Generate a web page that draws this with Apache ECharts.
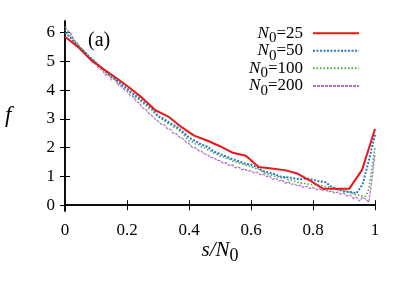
<!DOCTYPE html>
<html>
<head>
<meta charset="utf-8">
<script src="https://cdn.jsdelivr.net/npm/echarts@6/dist/echarts.min.js"></script>
<style>html,body{margin:0;padding:0;background:#fff;}#c{width:407px;height:285px;}</style>
</head>
<body>
<div id="c"></div>
<script>
// N0 = 25 : x = i/24
const red = [5.85,5.5,5.05,4.72,4.41,4.08,3.72,3.3,3.08,2.72,2.42,2.25,2.05,1.82,1.72,1.33,1.28,1.22,1.1,0.85,0.57,0.57,0.57,1.23,2.65];
// N0 = 50 : x = i/50
const blue = [6.0,5.8,5.55,5.36,5.14,4.95,4.76,4.55,4.4,4.22,4.06,3.87,3.71,3.52,3.36,3.1,2.99,2.84,2.73,2.55,2.35,2.23,2.11,2.03,1.87,1.78,1.69,1.6,1.53,1.45,1.41,1.32,1.18,1.13,1.06,0.98,0.97,0.93,0.9,0.93,0.88,0.83,0.8,0.64,0.55,0.48,0.46,0.42,0.72,1.55,2.45];
// N0 = 100 : x = i/100
const green = [6.1,5.98,5.85,5.72,5.6,5.49,5.37,5.27,5.14,5.06,4.95,4.83,4.77,4.63,4.57,4.45,4.39,4.27,4.21,4.09,4.03,3.91,3.85,3.73,3.67,3.55,3.49,3.37,3.31,3.19,3.08,3.0,2.95,2.85,2.81,2.71,2.67,2.57,2.49,2.35,2.24,2.21,2.13,2.11,2.03,1.99,1.93,1.89,1.81,1.77,1.71,1.69,1.63,1.61,1.54,1.51,1.46,1.45,1.39,1.39,1.33,1.31,1.25,1.23,1.13,1.11,1.06,1.05,0.99,0.99,0.95,0.95,0.89,0.87,0.83,0.81,0.77,0.77,0.73,0.74,0.71,0.71,0.67,0.68,0.65,0.63,0.59,0.58,0.54,0.55,0.51,0.49,0.43,0.41,0.35,0.35,0.31,0.31,0.55,1.3,2.0];
// N0 = 200 : sampled every 0.01
const purple = [6.2,6.05,5.95,5.72,5.62,5.42,5.36,5.18,5.12,4.95,4.9,4.74,4.7,4.52,4.55,4.35,4.42,4.2,4.14,4.02,3.96,3.82,3.78,3.6,3.55,3.38,3.34,3.2,3.12,3.0,2.92,2.82,2.8,2.66,2.64,2.5,2.48,2.36,2.32,2.2,2.14,2.02,2.0,1.9,1.88,1.78,1.76,1.66,1.65,1.56,1.55,1.46,1.48,1.38,1.4,1.3,1.33,1.24,1.26,1.18,1.2,1.12,1.15,1.06,1.08,1.0,1.02,0.9,0.94,0.84,0.88,0.76,0.82,0.72,0.75,0.66,0.7,0.62,0.66,0.58,0.62,0.54,0.58,0.5,0.56,0.46,0.5,0.42,0.46,0.38,0.42,0.32,0.36,0.24,0.28,0.14,0.28,0.22,0.1,0.9,1.8];
const seriesNames = ['N0=25','N0=50','N0=100','N0=200'];
const yTicks = [0,1,2,3,4,5,6];

function pairs(arr){ const n = arr.length-1; return arr.map((v,i)=>[i/n, v]); }

const font = '"Liberation Serif", "DejaVu Serif", serif';
const rowCenters = [33.3, 50.8, 68.3, 86];
const legends = seriesNames.map((nm, k) => ({
  orient:'vertical', right:47, top: rowCenters[k] - 12.5, align:'right', padding:0,
  itemWidth:46, itemHeight:10, itemGap:0,
  itemStyle:{opacity:0},
  data:[nm],
  formatter: n => { const v = n.split('=')[1]; return '{i|N}{s|0}{n|=' + v + '}'; },
  textStyle:{
    fontFamily:font, color:'#000', padding:[0,5,0,0],
    rich:{
      i:{fontFamily:font, fontStyle:'italic', fontSize:17, color:'#000', lineHeight:18},
      s:{fontFamily:font, fontSize:15, color:'#000', padding:[10,0,0,0], lineHeight:8},
      n:{fontFamily:font, fontSize:17, color:'#000', lineHeight:18}
    }
  }
}));

const chart = echarts.init(document.getElementById('c'), null, {renderer:'canvas'});
const axisLine = {show:true, lineStyle:{color:'#000', width:1.5}};
chart.setOption({
  animation:false,
  backgroundColor:'#fff',
  textStyle:{fontFamily:font},
  grid:{left:65, right:32, top:21, bottom:74, containLabel:false},
  graphic:[
    {type:'text', left:88, top:31, style:{text:'(a)', font:'20px "Liberation Serif"', fill:'#000'}},
    {type:'text', left:5, top:104, style:{text:'f', font:'italic 23px "Liberation Serif"', fill:'#000'}}
  ],
  legend: legends,
  xAxis:[{
    type:'value', min:0, max:1, interval:0.2, position:'bottom',
    axisLine, splitLine:{show:false},
    axisTick:{show:true, inside:true, length:5, lineStyle:{color:'#000', width:1}},
    axisLabel:{fontFamily:font, fontSize:17, color:'#000', margin:11},
    name:'{i|s/N}{s|0}', nameLocation:'middle', nameGap:28, nameMoveOverlap:false,
    nameTextStyle:{rich:{
      i:{fontFamily:font, fontStyle:'italic', fontSize:21, color:'#000', lineHeight:22},
      s:{fontFamily:font, fontSize:18, color:'#000', padding:[12,0,0,0], lineHeight:10}
    }}
  },{
    type:'value', min:0, max:1, interval:0.2, position:'top',
    axisLine, splitLine:{show:false},
    axisTick:{show:true, inside:true, length:5, lineStyle:{color:'#000', width:1}},
    axisLabel:{show:false}
  }],
  yAxis:[{
    type:'value', min:-0.2, max:6.4, position:'left',
    axisLine, splitLine:{show:false},
    axisTick:{show:true, inside:true, length:5, customValues:yTicks, lineStyle:{color:'#000', width:1}},
    axisLabel:{fontFamily:font, fontSize:17, color:'#000', margin:10, customValues:yTicks}
  },{
    type:'value', min:-0.2, max:6.4, position:'right',
    axisLine, splitLine:{show:false},
    axisTick:{show:true, inside:true, length:5, customValues:yTicks, lineStyle:{color:'#000', width:1}},
    axisLabel:{show:false, customValues:yTicks}
  }],
  series:[
    {name:seriesNames[0], type:'line', data:pairs(red), symbol:'none', z:5,
     lineStyle:{color:'#e8181c', width:2, type:'solid'}, itemStyle:{color:'#e8181c'}},
    {name:seriesNames[1], type:'line', data:pairs(blue), symbol:'none', z:4,
     lineStyle:{color:'#2f76bc', width:2, type:[2,1.5]}, itemStyle:{color:'#2f76bc'}},
    {name:seriesNames[2], type:'line', data:pairs(green), symbol:'none', z:3,
     lineStyle:{color:'#45b045', width:1.6, type:[1.5,2]}, itemStyle:{color:'#45b045'}},
    {name:seriesNames[3], type:'line', data:pairs(purple), symbol:'none', z:2,
     lineStyle:{color:'#b26ec0', width:1.2, type:[3,1]}, itemStyle:{color:'#b26ec0'}}
  ]
});
</script>
</body>
</html>
